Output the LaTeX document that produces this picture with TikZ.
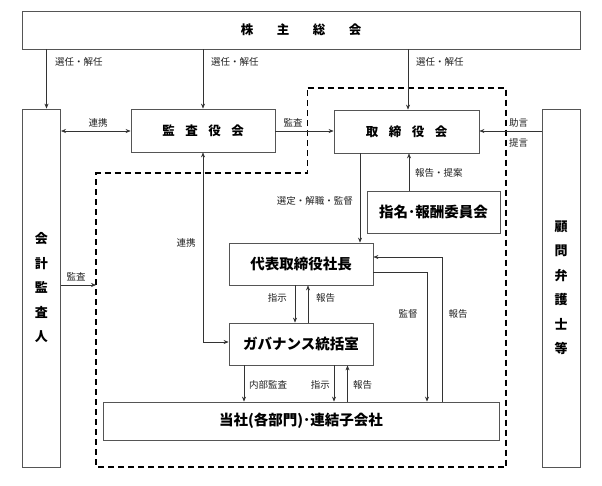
\documentclass[tikz,border=0pt]{standalone}
\usepackage{fontspec}
\setmainfont{Noto Sans CJK JP}
\usetikzlibrary{arrows.meta}
\definecolor{boxgray}{HTML}{555555}
\definecolor{linegray}{HTML}{333333}
\definecolor{labelgray}{HTML}{222222}
\tikzset{
  box/.style={draw=boxgray, line width=0.8pt, fill=white, inner sep=0pt, align=center,
    font=\fontsize{14.5}{16}\selectfont\bfseries},
  sbox/.style={box, font=\fontsize{12.5}{14}\selectfont\bfseries},
  vbox/.style={box, font=\fontsize{13}{24.5}\selectfont\bfseries},
  lbl/.style={font=\fontsize{9.5}{11}\selectfont, text=labelgray, inner sep=1pt},
  arr/.style={-{Stealth[length=5pt,width=4pt]}, line width=0.6pt, draw=linegray},
  dbl/.style={{Stealth[length=5pt,width=4pt]}-{Stealth[length=5pt,width=4pt]}, line width=0.6pt, draw=linegray},
  dashregion/.style={draw=black, line width=1.2pt, dash pattern=on 6pt off 4pt}
}
\begin{document}
\begin{tikzpicture}[x=1pt,y=-1pt]
\useasboundingbox[fill=white] (0,0) rectangle (602,485);
% dashed region
\draw[dashregion] (307.5,88) -- (506,88) -- (506,467) -- (96,467) -- (96,173) -- (307.5,173) -- cycle;
% boxes
\node[sbox, minimum width=558pt, minimum height=38pt] (top) at (301,30)
  {株\hspace{23.5pt}主\hspace{23.5pt}総\hspace{23.5pt}会};
\node[vbox, minimum width=38.6pt, minimum height=358pt] (kaikei) at (41.3,288)
  {会\\計\\監\\査\\人};
\node[vbox, minimum width=38pt, minimum height=358pt] (komon) at (561,288)
  {顧\\問\\弁\\護\\士\\等};
\node[sbox, minimum width=144pt, minimum height=43pt] (kansa) at (203,130.5)
  {監\hspace{10.5pt}査\hspace{10.5pt}役\hspace{10.5pt}会};
\node[sbox, minimum width=145pt, minimum height=43pt] (tori) at (406.5,131.5)
  {取\hspace{10.5pt}締\hspace{10.5pt}役\hspace{10.5pt}会};
\node[box, minimum width=133pt, minimum height=42pt] (shimei) at (433.5,212)
  {指名･報酬委員会};
\node[box, minimum width=144pt, minimum height=42pt] (daihyo) at (301,264)
  {代表取締役社長};
\node[box, minimum width=144pt, minimum height=42pt] (gov) at (301,344)
  {ガバナンス統括室};
\node[box, minimum width=396pt, minimum height=38pt] (tosha) at (301,421)
  {当社(各部門)･連結子会社};
% coordinates
\coordinate (dashL) at (96,285);
\coordinate (c1) at (203,342);
\coordinate (c2) at (427,272);
\coordinate (c3) at (442,257);
% election arrows
\draw[arr] (46.5,0 |- top.south) -- (46.5,0 |- kaikei.north);
\draw[arr] (kansa.north |- top.south) -- (kansa.north);
\draw[arr] (408,0 |- top.south) -- (408,0 |- tori.north);
\node[lbl, anchor=west] at (54,62) {選任・解任};
\node[lbl, anchor=west] at (210,62) {選任・解任};
\node[lbl, anchor=west] at (415,62) {選任・解任};
% row arrows
\draw[dbl] (kaikei.east |- 0,131) -- (kansa.west |- 0,131);
\node[lbl] at (98,123) {連携};
\draw[arr] (kansa.east |- 0,131) -- (tori.west |- 0,131);
\node[lbl] at (293,123) {監査};
\draw[arr] (komon.west |- 0,131) -- (tori.east |- 0,131);
\node[lbl, anchor=west] at (508,123) {助言};
\node[lbl, anchor=west] at (508,143) {提言};
% shimei -> tori
\draw[arr] (409,0 |- shimei.north) -- (409,0 |- tori.south);
\node[lbl, anchor=west] at (414,173) {報告・提案};
% tori -> daihyo
\draw[arr] (360,0 |- tori.south) -- (360,0 |- daihyo.north);
\node[lbl, anchor=east] at (354,201) {選定・解職・監督};
% kansa <-> gov
\draw[dbl] (kansa.south) -- (c1) -- (gov.west |- c1);
\node[lbl] at (186,243) {連携};
% daihyo <-> gov
\draw[arr] (295,0 |- daihyo.south) -- (295,0 |- gov.north);
\node[lbl, anchor=east] at (288,298) {指示};
\draw[arr] (308,0 |- gov.north) -- (308,0 |- daihyo.south);
\node[lbl, anchor=west] at (315,298) {報告};
% daihyo <-> tosha
\draw[arr] (daihyo.east |- c2) -- (c2) -- (c2 |- tosha.north);
\node[lbl] at (408,314) {監督};
\draw[arr] (c3 |- tosha.north) -- (c3) -- (daihyo.east |- c3);
\node[lbl] at (458,314) {報告};
% gov -> tosha
\draw[arr] (244,0 |- gov.south) -- (244,0 |- tosha.north);
\node[lbl, anchor=west] at (248,385) {内部監査};
\draw[arr] (334,0 |- gov.south) -- (334,0 |- tosha.north);
\node[lbl, anchor=east] at (331,385) {指示};
\draw[arr] (347.5,0 |- tosha.north) -- (347.5,0 |- gov.south);
\node[lbl, anchor=west] at (352,385) {報告};
% kaikei -> dashed region
\draw[arr] (kaikei.east |- dashL) -- (dashL);
\node[lbl] at (76,277) {監査};
\end{tikzpicture}
\end{document}
